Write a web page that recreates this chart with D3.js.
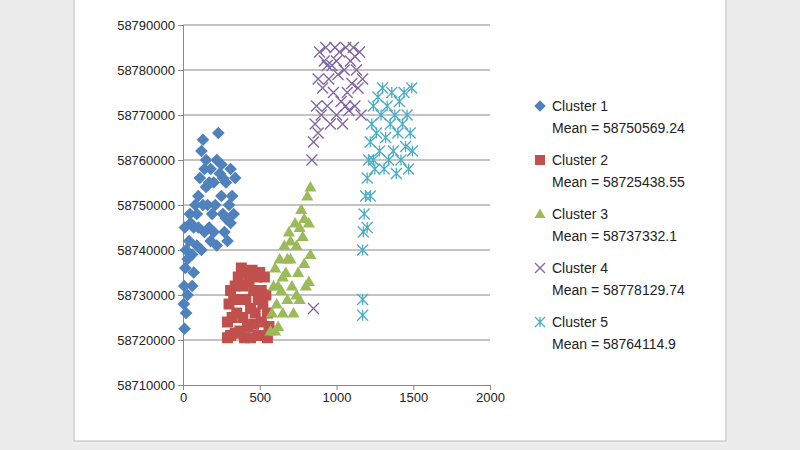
<!DOCTYPE html><html><head><script src="https://cdn.jsdelivr.net/npm/d3@7"></script>
<style>body{margin:0;background:#ececec}</style></head><body><svg id="c" width="800" height="450"></svg>
<script>
const xTicks=[0,500,1000,1500,2000];
const yTicks=[58710000,58720000,58730000,58740000,58750000,58760000,58770000,58780000,58790000];
const clusterNames=["Cluster 1","Cluster 2","Cluster 3","Cluster 4","Cluster 5"];
const clusterMeans=["Mean = 58750569.24","Mean = 58725438.55","Mean = 58737332.1","Mean = 58778129.74","Mean = 58764114.9"];
const cluster1=[[10,58722500],[5,58728000],[8,58732000],[15,58736000],[20,58740000],[12,58745000],[30,58738000],[40,58742000],[50,58746000],[60,58739000],[70,58745000],[80,58750000],[90,58748000],[100,58752000],[110,58756000],[120,58762000],[130,58764500],[140,58758000],[150,58754000],[160,58750000],[170,58745000],[180,58742000],[190,58748000],[200,58755000],[220,58760000],[230,58766000],[240,58757000],[250,58752000],[260,58748000],[270,58744000],[280,58755000],[290,58742000],[300,58750000],[310,58746000],[320,58752000],[330,58748000],[340,58756000],[100,58745000],[120,58740000],[150,58760000],[180,58758000],[200,58744000],[250,58759000],[280,58747000],[60,58732000],[30,58730000],[45,58748000],[90,58741000],[140,58744000],[210,58750000],[260,58756000],[310,58758000],[220,58741000],[130,58750000],[170,58755000],[70,58735000],[20,58726000]];
const cluster2=[[290,58720500],[290,58724000],[300,58728000],[310,58731000],[310,58721000],[320,58725000],[330,58729000],[340,58732000],[340,58721500],[350,58726000],[360,58734000],[370,58729000],[370,58722000],[380,58736000],[390,58732000],[390,58725000],[400,58720500],[410,58735000],[410,58729000],[420,58723000],[430,58733000],[440,58727000],[440,58720500],[450,58735500],[460,58731000],[460,58723500],[470,58726000],[480,58734000],[490,58729000],[490,58721000],[500,58735000],[510,58731000],[510,58724000],[520,58728000],[530,58734000],[530,58721000],[540,58730000],[550,58726000],[550,58720500],[560,58723000]];
const cluster3=[[570,58722000],[580,58726000],[590,58732000],[600,58736000],[610,58728000],[620,58723000],[630,58738000],[640,58731000],[650,58726000],[660,58741000],[670,58735000],[680,58729000],[690,58744000],[700,58738000],[710,58732000],[720,58726000],[730,58746000],[740,58741000],[750,58735000],[760,58729000],[770,58749000],[780,58743000],[790,58737000],[800,58732000],[810,58752000],[820,58746000],[830,58754000],[830,58739000],[820,58733000],[600,58722000],[650,58734000],[700,58742000],[760,58745000],[790,58747000],[740,58730000],[680,58738000],[620,58732000]];
const cluster4=[[840,58760000],[850,58764000],[860,58768000],[870,58772000],[880,58778000],[890,58784000],[900,58770000],[910,58776000],[920,58782000],[930,58785000],[940,58772000],[950,58778000],[960,58768000],[970,58781000],[980,58775000],[990,58785000],[1000,58770000],[1010,58779000],[1020,58784000],[1030,58773000],[1040,58768000],[1050,58780000],[1060,58785000],[1070,58775000],[1080,58771000],[1090,58782000],[1100,58777000],[1110,58785000],[1120,58772000],[1130,58780000],[1140,58776000],[1150,58784000],[1160,58770000],[1170,58778000],[880,58766000],[940,58781000],[1000,58782000],[1060,58772000],[1120,58783000],[850,58727000]];
const cluster5=[[1170,58740000],[1175,58744000],[1180,58748000],[1190,58752000],[1200,58756000],[1210,58760000],[1220,58764000],[1230,58768000],[1240,58772000],[1250,58758000],[1260,58766000],[1270,58774000],[1280,58762000],[1290,58770000],[1300,58776000],[1310,58758000],[1320,58765000],[1330,58772000],[1340,58760000],[1350,58768000],[1360,58775000],[1370,58762000],[1380,58770000],[1390,58757000],[1400,58766000],[1410,58773000],[1420,58760000],[1430,58768000],[1440,58775000],[1450,58763000],[1460,58770000],[1470,58758000],[1480,58766000],[1490,58776000],[1495,58762000],[1200,58745000],[1220,58752000],[1240,58760000],[1170,58729000],[1170,58725500]];
const colors=["#4f81bd","#c0504d","#9bbb59","#8064a2","#4bacc6"];
const svg=d3.select("#c");
svg.append("rect").attr("x",74).attr("y",-1).attr("width",652).attr("height",442).attr("fill","#fff").attr("stroke","#bbb");
const x=d3.scaleLinear().domain([0,2000]).range([183,490]);
const y=d3.scaleLinear().domain([58710000,58790000]).range([385,25]);
svg.append("g").selectAll("line").data(yTicks.slice(1)).join("line").attr("x1",183).attr("x2",490).attr("y1",d=>y(d)).attr("y2",d=>y(d)).attr("stroke","#888");
const ya=svg.append("g").attr("transform","translate(183,0)").call(d3.axisLeft(y).tickValues(yTicks).tickFormat(d3.format("d")).tickSize(5));
const xa=svg.append("g").attr("transform","translate(0,385)").call(d3.axisBottom(x).tickValues(xTicks).tickFormat(d3.format("d")).tickSize(5));
[ya,xa].forEach(a=>{a.selectAll("path,line").attr("stroke","#888");a.selectAll("text").attr("font-family","Liberation Sans, Arial").attr("font-size",13).attr("fill","#222");});
function marker(g,i,sz){
  const r=sz/2;
  let d,stroke=false;
  if(i===0)d=`M0,${-r*1.15}L${r*1.15},0L0,${r*1.15}L${-r*1.15},0Z`;
  else if(i===1)d=`M${-r},${-r}h${sz}v${sz}h${-sz}Z`;
  else if(i===2)d=`M0,${-r*1.1}L${r*1.1},${r*0.8}L${-r*1.1},${r*0.8}Z`;
  else if(i===3){d=`M${-r},${-r}L${r},${r}M${-r},${r}L${r},${-r}`;stroke=true;}
  else {d=`M${-r},${-r}L${r},${r}M${-r},${r}L${r},${-r}M0,${-r}L0,${r}`;stroke=true;}
  const p=g.append("path").attr("d",d);
  if(stroke)p.attr("stroke",colors[i]).attr("stroke-width",1.3).attr("fill","none");else p.attr("fill",colors[i]);
}
[cluster1,cluster2,cluster3,cluster4,cluster5].forEach((data,i)=>{
  data.forEach(p=>{const g=svg.append("g").attr("transform",`translate(${x(p[0])},${y(p[1])})`);marker(g,i,11);});
});
clusterNames.forEach((n,i)=>{
  const yy=106+i*54;
  const g=svg.append("g").attr("transform",`translate(540,${yy})`);marker(g,i,10);
  svg.append("text").attr("x",552).attr("y",yy+5).text(n).attr("font-family","Liberation Sans, Arial").attr("font-size",14).attr("fill","#222");
  svg.append("text").attr("x",552).attr("y",yy+27).text(clusterMeans[i]).attr("font-family","Liberation Sans, Arial").attr("font-size",14).attr("fill","#222");
});
</script></body></html>
